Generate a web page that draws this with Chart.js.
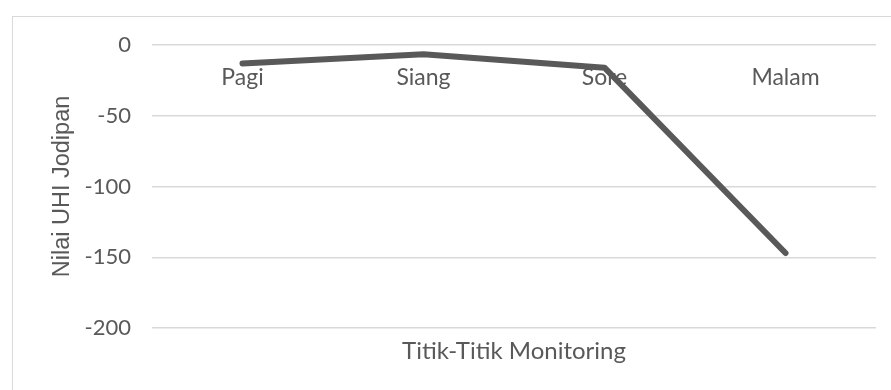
<!DOCTYPE html>
<html>
<head>
<meta charset="utf-8">
<title>Nilai UHI Jodipan</title>
<script src="https://cdn.jsdelivr.net/npm/chart.js"></script>
<style>
  html, body { margin: 0; padding: 0; background: #fff; }
  canvas { display: block; }
</style>
</head>
<body>
<canvas id="uhiChart" width="891" height="390"></canvas>
<script>
// Data
const categories = ['Pagi', 'Siang', 'Sore', 'Malam'];
const uhiValues = [-13, -6.5, -16, -147];
const yMin = -200;
const yMax = 0;
const yStep = 50;
const xTitle = 'Titik-Titik Monitoring';
const yTitle = 'Nilai UHI Jodipan';

const grey = '#595959';

// light frame round the chart, like the Excel chart border
const framePlugin = {
    id: 'frame',
    beforeDraw(chart) {
        const c = chart.ctx;
        c.save();
        c.fillStyle = '#ffffff';
        c.fillRect(0, 0, chart.width, chart.height);
        c.strokeStyle = '#d9d9d9';
        c.lineWidth = 1;
        c.strokeRect(12.5, 16.5, chart.width + 20, chart.height + 20);
        c.restore();
    }
};

// x axis title sits under the plot, centred on the plot area
// (the x axis itself is pinned to y = 0, so its own title can't be used)
const xTitlePlugin = {
    id: 'xTitle',
    afterDraw(chart) {
        const c = chart.ctx;
        const area = chart.chartArea;
        c.save();
        c.fillStyle = grey;
        c.font = '24px Lato';
        c.textAlign = 'center';
        c.textBaseline = 'middle';
        c.fillText(xTitle, (area.left + area.right) / 2, area.bottom + 23);
        c.restore();
    }
};

new Chart(document.getElementById('uhiChart'), {
    type: 'line',
    data: {
        labels: categories,
        datasets: [{
            label: yTitle,
            data: uhiValues,
            borderColor: grey,
            borderWidth: 6,
            tension: 0,
            pointRadius: 0,
            borderCapStyle: 'round',
            borderJoinStyle: 'round',
            fill: false
        }]
    },
    options: {
        responsive: false,
        animation: false,
        layout: { padding: { top: 45, right: 15, bottom: 62, left: 0 } },
        plugins: {
            legend: { display: false },
            tooltip: { enabled: false }
        },
        scales: {
            x: {
                position: { y: 0 },
                offset: true,
                grid: { display: false, drawTicks: false },
                border: { display: false },
                ticks: {
                    color: grey,
                    padding: 19,
                    font: { family: 'Lato', size: 23 }
                }
            },
            y: {
                min: yMin,
                max: yMax,
                afterFit: scale => { scale.width = 152; },
                border: { display: false },
                grid: { color: '#d9d9d9', lineWidth: 1.5, drawTicks: false },
                ticks: {
                    stepSize: yStep,
                    color: grey,
                    padding: 21,
                    font: { family: 'Lato', size: 22 }
                },
                title: {
                    display: true,
                    text: yTitle,
                    color: grey,
                    font: { family: 'Liberation Sans', size: 23.5 },
                    padding: { top: 48, bottom: 0 }
                }
            }
        }
    },
    plugins: [framePlugin, xTitlePlugin]
});
</script>
</body>
</html>
